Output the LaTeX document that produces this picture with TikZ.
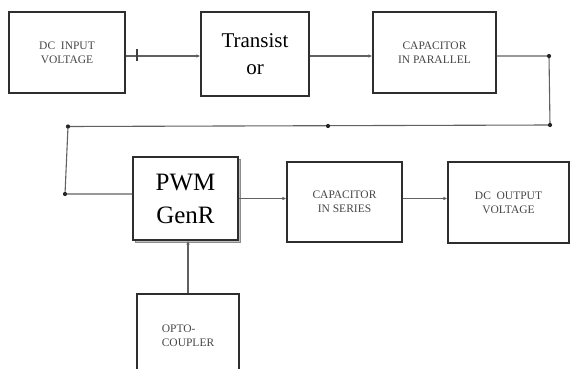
\documentclass[tikz,border=0pt]{standalone}
\usepackage{fontspec}
\setmainfont{Liberation Serif}
\usetikzlibrary{arrows.meta,shadows}
\begin{document}
\begin{tikzpicture}[x=1pt,y=-1pt,
  blk/.style={draw=black!82, line width=1.3pt, fill=white, inner sep=0pt, align=center},
  small/.style={font=\fontsize{11.5}{14}\selectfont, text=black!72},
  big/.style={font=\fontsize{21}{27}\selectfont},
  huge/.style={font=\fontsize{25}{33}\selectfont},
  conn/.style={draw=black!62, line width=1.1pt},
  arr/.style={conn, -{Latex[length=4pt,width=3.6pt]}},
  dot/.style={circle, fill=black!85, inner sep=0pt, minimum size=4.2pt}
]
\useasboundingbox (0,0) rectangle (570,369);
\clip (0,0) rectangle (570,369);
\fill[white] (0,0) rectangle (570,369);

% blocks
\node[blk, small, minimum width=116pt, minimum height=81pt] (b1) at (67,52.5) {DC~~INPUT\\VOLTAGE};
\node[blk, big, minimum width=108pt, minimum height=84pt] (b2) at (255,54) {Transist\\or};
\node[blk, small, minimum width=123pt, minimum height=81pt] (b3) at (434.5,52.5) {CAPACITOR\\IN PARALLEL};
\node[blk, huge, minimum width=105pt, minimum height=83pt,
      copy shadow={draw=black!45, fill=black!25, shadow xshift=2.2pt, shadow yshift=-2.2pt}] (pwm) at (185.5,198.5) {PWM\\GenR};
\node[blk, small, minimum width=115pt, minimum height=80pt] (b5) at (344.5,202) {CAPACITOR\\IN SERIES};
\node[blk, small, minimum width=121pt, minimum height=81pt] (b6) at (508.5,202.5) {DC~~OUTPUT\\VOLTAGE};
\node[blk, small, minimum width=102pt, minimum height=84pt, align=left] (opto) at (188,336) {OPTO-\\COUPLER};

% helper coordinates
\coordinate (r1) at (0,56);
\coordinate (c1) at (549,56);
\coordinate (c2) at (550,125);
\coordinate (c3) at (68,126.5);
\coordinate (c4) at (65,194);
\coordinate (cm) at (328,126);
\coordinate (r2) at (0,198.5);

% connectors
\draw[arr] (b1.east |- r1) -- (b2.west |- r1);
\draw[black!75, line width=1.6pt] (137,49.5) -- (137,61.5);
\draw[arr] (b2.east |- r1) -- (b3.west |- r1);
\draw[conn] (b3.east |- r1) -- (c1) -- (c2) -- (c3) -- (c4) -- (pwm.west |- c4);
\node[dot] (d1) at (c1) {};
\node[dot] (d2) at (c2) {};
\node[dot] (d3) at (c3) {};
\node[dot] (d4) at (c4) {};
\node[dot] (d5) at (cm) {};
\draw[arr] (pwm.east |- r2) -- (b5.west |- r2);
\draw[arr] (b5.east |- r2) -- (b6.west |- r2);
\draw[arr] (opto.north) -- (pwm.south -| opto.north);
\end{tikzpicture}
\end{document}
